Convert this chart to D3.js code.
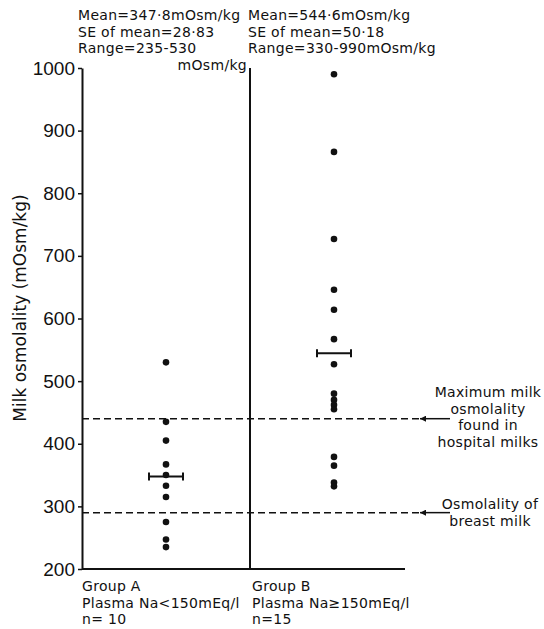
<!DOCTYPE html>
<html>
<head>
<meta charset="utf-8">
<script src="https://cdn.jsdelivr.net/npm/d3@7"></script>
<style>
  body { margin: 0; background: #fff; }
  svg { font-family: "DejaVu Sans", sans-serif; }
</style>
</head>
<body>
<svg></svg>
<script>
// data (mOsm/kg)
const groups = ["A", "B"];
const groupA = [530, 435, 405, 367, 350, 333, 315, 275, 247, 235];
const groupB = [990, 866, 727, 646, 614, 567, 527, 480, 470, 462, 455, 379, 365, 338, 332];
const means = [347.8, 544.6];
const yTicks = [200, 300, 400, 500, 600, 700, 800, 900, 1000];
const refLines = [440, 290];

const headerA = ["Mean=347·8mOsm/kg", "SE of mean=28·83", "Range=235-530"];
const headerB = ["Mean=544·6mOsm/kg", "SE of mean=50·18", "Range=330-990mOsm/kg"];
const footA = ["Group A", "Plasma Na<150mEq/l", "n= 10"];
const footB = ["Group B", "Plasma Na≥150mEq/l", "n=15"];
const noteMax = ["Maximum milk", "osmolality", "found in", "hospital milks"];
const noteBreast = ["Osmolality of", "breast milk"];

const svg = d3.select("svg").attr("width", 544).attr("height", 629);

const y = d3.scaleLinear().domain([200, 1000]).range([569, 68]);
const x = d3.scaleBand().domain(groups).range([82, 418]);

// arrow marker, tip pointing along the line
svg.append("defs").append("marker")
  .attr("id", "arr")
  .attr("viewBox", "0 0 10 10")
  .attr("refX", 10).attr("refY", 5)
  .attr("markerWidth", 9).attr("markerHeight", 6)
  .attr("markerUnits", "userSpaceOnUse")
  .attr("orient", "auto")
  .append("path").attr("d", "M10,5 L0,0 L0,10 Z").attr("fill", "#111");

// y axis
const yAxis = svg.append("g")
  .attr("transform", "translate(82,0)")
  .call(d3.axisLeft(y).tickValues(yTicks).tickSize(4).tickSizeOuter(0).tickFormat(d3.format("d")));
yAxis.select(".domain").attr("stroke", "#111").attr("stroke-width", 2);
yAxis.selectAll(".tick line").attr("stroke", "#111").attr("stroke-width", 1.5);
yAxis.selectAll(".tick text")
  .attr("x", -7)
  .attr("font-size", 19)
  .attr("fill", "#111");

svg.append("text")
  .attr("transform", "translate(26,308) rotate(-90)")
  .attr("text-anchor", "middle")
  .attr("font-size", 17)
  .attr("fill", "#111")
  .text("Milk osmolality (mOsm/kg)");

// bottom line + divider
svg.append("line")
  .attr("x1", 82).attr("x2", 405)
  .attr("y1", y(200)).attr("y2", y(200))
  .attr("stroke", "#111").attr("stroke-width", 2);
svg.append("line")
  .attr("x1", x("B")).attr("x2", x("B"))
  .attr("y1", y(1000)).attr("y2", y(200))
  .attr("stroke", "#111").attr("stroke-width", 2);

// reference dashed lines
svg.selectAll(".ref")
  .data(refLines)
  .enter()
  .append("line")
  .attr("class", "ref")
  .attr("x1", 82).attr("x2", 420)
  .attr("y1", (d) => y(d)).attr("y2", (d) => y(d))
  .attr("stroke", "#111")
  .attr("stroke-width", 1.5)
  .attr("stroke-dasharray", "7,4");

svg.selectAll(".arrow")
  .data(refLines)
  .enter()
  .append("line")
  .attr("class", "arrow")
  .attr("x1", 450).attr("x2", 420)
  .attr("y1", (d) => y(d)).attr("y2", (d) => y(d))
  .attr("stroke", "#111")
  .attr("stroke-width", 1.5)
  .attr("marker-end", "url(#arr)");

// dots
const cx = (g) => x(g) + x.bandwidth() / 2;
const dots = [
  ...groupA.map((v) => ({ g: "A", v })),
  ...groupB.map((v) => ({ g: "B", v })),
];
svg.selectAll(".dot")
  .data(dots)
  .enter()
  .append("circle")
  .attr("class", "dot")
  .attr("cx", (d) => cx(d.g))
  .attr("cy", (d) => y(d.v))
  .attr("r", 3.3)
  .attr("fill", "#111");

// mean bars
const meanG = svg.selectAll(".mean")
  .data(groups.map((g, i) => ({ g, m: means[i] })))
  .enter()
  .append("g")
  .attr("class", "mean")
  .attr("transform", (d) => `translate(${cx(d.g)},${y(d.m)})`);
meanG.append("line").attr("x1", -17).attr("x2", 17).attr("stroke", "#111").attr("stroke-width", 2);
meanG.append("line").attr("x1", -17).attr("x2", -17).attr("y1", -4).attr("y2", 4).attr("stroke", "#111").attr("stroke-width", 2);
meanG.append("line").attr("x1", 17).attr("x2", 17).attr("y1", -4).attr("y2", 4).attr("stroke", "#111").attr("stroke-width", 2);

// text blocks
function block(lines, x0, y0, dy, anchor) {
  svg.append("g")
    .selectAll("text")
    .data(lines)
    .enter()
    .append("text")
    .attr("x", x0)
    .attr("y", (d, i) => y0 + i * dy)
    .attr("text-anchor", anchor || "start")
    .attr("font-size", 14)
    .attr("letter-spacing", 0.3)
    .attr("fill", "#111")
    .text((d) => d);
}

block(headerA, 78, 20, 16.5);
block(["mOsm/kg"], 247, 69.5, 16.5, "end");
block(headerB, 248, 20, 16.5);
block(footA, 82, 591, 16.5);
block(footB, 252, 591, 16.5);
block(noteMax, 488, 397, 16.5, "middle");
block(noteBreast, 490, 509, 16.5, "middle");
</script>
</body>
</html>
